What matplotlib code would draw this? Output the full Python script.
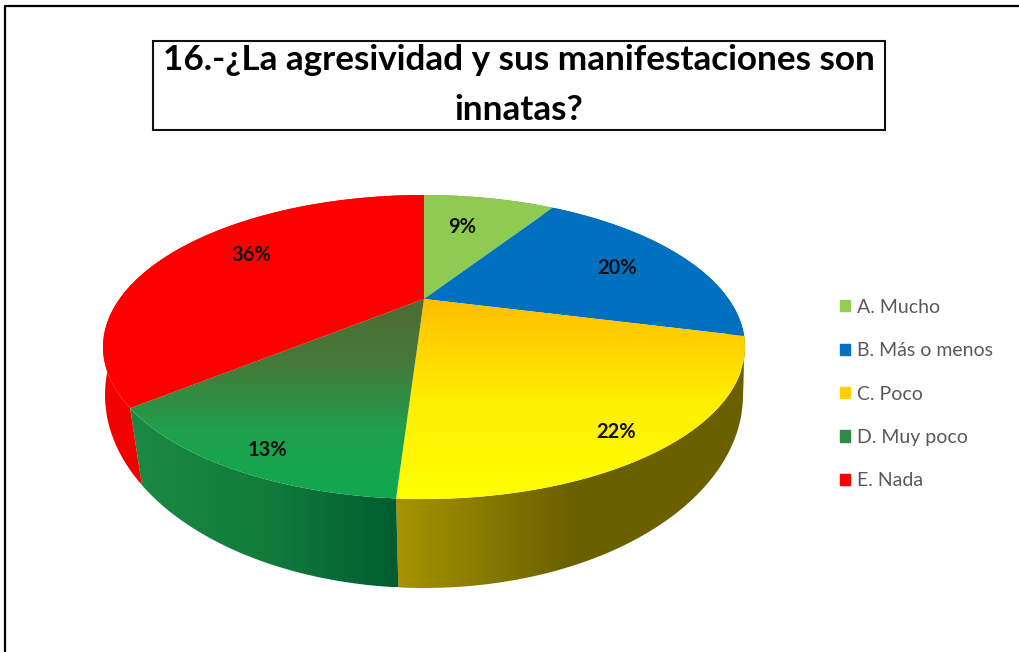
import numpy as np
import matplotlib
matplotlib.use("Agg")
import matplotlib.pyplot as plt
from matplotlib.colors import LinearSegmentedColormap
from matplotlib.patches import Patch, Polygon, Rectangle

# data
categories = ["A. Mucho", "B. Más o menos", "C. Poco", "D. Muy poco", "E. Nada"]
values = [9, 20, 22, 13, 36]
title = "16.-¿La agresividad y sus manifestaciones son\ninnatas?"

# colours
legend_colors = ["#92D050", "#0070C0", "#FFD000", "#2E8B47", "#FF0000"]
top_colors = [["#8FCB52", "#8FCB52"], ["#0070C0", "#0070C0"], ["#FFBE00", "#FFEE00", "#FFFF00"],
              ["#4F6A32", "#457A3A", "#1FA04C", "#10A850"], ["#FF0000", "#FF0000"]]
side_colors = [["#6E9A3C", "#6E9A3C"], ["#004F88", "#004F88"], ["#A69400", "#6B6000", "#6B6000"],
               ["#1B8A44", "#127C3C", "#005C30"], ["#F40000", "#EC0000"]]

# ellipse of the top face and of the bottom rim, in pixels, with perspective k
top_rim = (424, 347, 321, 152, 0.316)
low_rim = (424, 395, 319, 193, 0.243)
apex_y = 299
label_nudge = [(-11, 4), (10, 2), (39, 39), (-36, 45), (4, -7)]


def rim(theta, geom, r=1.0):
    # theta clockwise from 12 o'clock, projected onto the tilted disc
    cx, cy, rx, ry, k = geom
    x = r * np.sin(theta)
    y = r * np.cos(theta)
    d = 1 + k * y
    return cx + rx * x * np.sqrt(1 - k ** 2) / d, cy - ry * (y + k) / d


def shade(ax, poly, colors, vertical):
    patch = Polygon(poly, closed=True, fc="none", ec="none")
    ax.add_patch(patch)
    cmap = LinearSegmentedColormap.from_list("c", colors)
    ramp = np.linspace(0, 1, 256)
    lo, hi = poly.min(axis=0), poly.max(axis=0)
    if vertical:
        im = ax.imshow(ramp[:, None], cmap=cmap, aspect="auto", extent=(lo[0], hi[0], hi[1], lo[1]), zorder=patch.get_zorder())
    else:
        im = ax.imshow(ramp[None, :], cmap=cmap, aspect="auto", extent=(lo[0], hi[0], hi[1], lo[1]), zorder=patch.get_zorder())
    im.set_clip_path(patch)


fig = plt.figure(figsize=(10.19, 6.52), dpi=100, facecolor="white")
ax = fig.add_axes([0, 0, 1, 1])
plt.rcParams["font.family"] = ["Lato", "DejaVu Sans"]

edges = np.cumsum([0] + values) / sum(values) * 2 * np.pi

# side walls first, the top faces cover whatever is behind
for i in range(len(values)):
    th = np.linspace(edges[i], edges[i + 1], 80)
    ux, uy = rim(th, top_rim)
    lx, ly = rim(th[::-1], low_rim)
    poly = np.column_stack([np.r_[ux, lx], np.r_[uy, ly]])
    shade(ax, poly, side_colors[i], False)

for i in range(len(values)):
    th = np.linspace(edges[i], edges[i + 1], 120)
    ux, uy = rim(th, top_rim)
    poly = np.column_stack([np.r_[top_rim[0], ux], np.r_[apex_y, uy]])
    shade(ax, poly, top_colors[i], True)

# percent labels
for i, v in enumerate(values):
    mid = (edges[i] + edges[i + 1]) / 2
    lx, ly = rim(mid, top_rim, 0.7)
    ax.text(lx + label_nudge[i][0], ly + label_nudge[i][1], "%d%%" % v, ha="center", va="center",
            fontsize=14.5, fontweight="bold", color="#101010", zorder=5)

# outer frame and title box
ax.plot([5, 5, 1019], [652, 6, 6], color="black", lw=1.6, zorder=6)
ax.add_patch(Rectangle((153, 41), 732, 89, fc="white", ec="#111111", lw=1.5, zorder=6))
ax.text(519, 85, title, ha="center", va="center", fontsize=25.3, fontweight="bold", color="black",
        linespacing=1.7, zorder=7)

handles = [Patch(color=c, label=n) for c, n in zip(legend_colors, categories)]
ax.legend(handles=handles, loc="center left", bbox_to_anchor=(822.8, 394), bbox_transform=ax.transData,
          frameon=False, fontsize=14, labelcolor="#595959", handlelength=0.5, handleheight=0.5,
          handletextpad=0.37, labelspacing=1.36)

ax.set_xlim(0, 1019)
ax.set_ylim(652, 0)
ax.axis("off")
fig.savefig("out.png", dpi=100)
